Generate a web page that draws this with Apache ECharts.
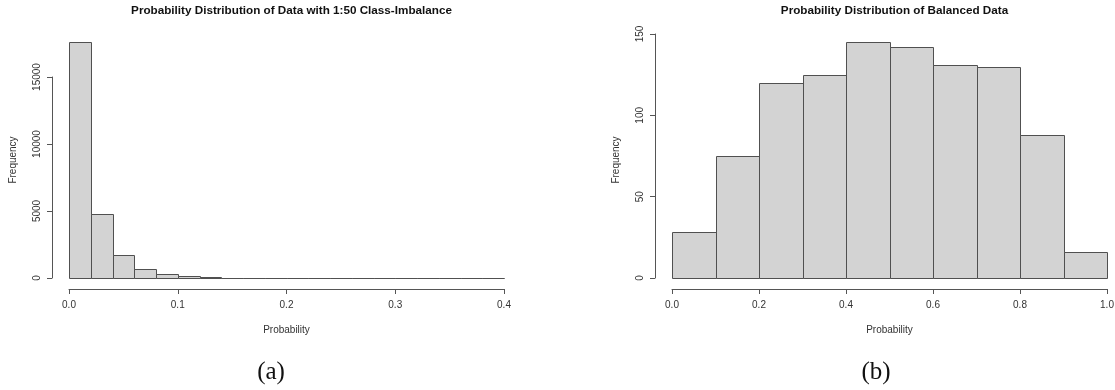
<!DOCTYPE html>
<html>
<head>
<meta charset="utf-8">
<script src="https://cdn.jsdelivr.net/npm/echarts@6/dist/echarts.min.js"></script>
<style>
html,body{margin:0;padding:0;background:#fff;}
#chart{width:1115px;height:390px;}
</style>
</head>
<body>
<div id="chart"></div>
<script>
// Panel (a): 1:50 class-imbalance, bins of width 0.02 from 0 to 0.4
var binsA = [0.00,0.02,0.04,0.06,0.08,0.10,0.12,0.14,0.16,0.18,0.20,0.22,0.24,0.26,0.28,0.30,0.32,0.34,0.36,0.38,0.40];
var countsA = [17600, 4780, 1730, 660, 330, 135, 60, 22, 14, 9, 3, 2, 1, 1, 0, 0, 0, 0, 0, 0];
var xTicksA = [0, 0.4, 0.1];   // min, max, interval
var yTicksA = [0, 15000, 5000];

// Panel (b): balanced data, bins of width 0.1 from 0 to 1
var binsB = [0.0,0.1,0.2,0.3,0.4,0.5,0.6,0.7,0.8,0.9,1.0];
var countsB = [28, 75, 120, 125, 145, 142, 131, 130, 88, 16];
var xTicksB = [0, 1, 0.2];
var yTicksB = [0, 150, 50];

var titleA = 'Probability Distribution of Data with 1:50 Class-Imbalance';
var titleB = 'Probability Distribution of Balanced Data';
var xLabel = 'Probability';
var yLabel = 'Frequency';
var captions = ['(a)', '(b)'];

function toHist(bins, counts) {
  var out = [];
  for (var i = 0; i < counts.length; i++) out.push([bins[i], bins[i + 1], counts[i]]);
  return out;
}

function renderBar(params, api) {
  var p0 = api.coord([api.value(0), 0]);
  var p1 = api.coord([api.value(1), api.value(2)]);
  var x0 = Math.round(p0[0]) + 0.5, x1 = Math.round(p1[0]) + 0.5;
  var y0 = Math.round(p0[1]) + 0.5, y1 = Math.round(p1[1]) + 0.5;
  return {
    type: 'rect',
    shape: { x: x0, y: y1, width: x1 - x0, height: y0 - y1 },
    style: { fill: '#d3d3d3', stroke: '#505050', lineWidth: 1 }
  };
}

var FONT = '"Liberation Sans", Arial, sans-serif';
var G = [
  { left: 69, top: 77, width: 435, height: 201 },
  { left: 672, top: 34, width: 435, height: 244 }
];

function xAxis(idx, t) {
  return {
    type: 'value', gridIndex: idx, min: t[0], max: t[1], interval: t[2],
    offset: 11,
    axisLine: { show: true, onZero: false, lineStyle: { color: '#555', width: 1 } },
    axisTick: { show: true, length: 5, lineStyle: { color: '#555' } },
    splitLine: { show: false },
    axisLabel: { color: '#333', fontSize: 10, fontFamily: FONT, margin: 11,
      formatter: function (v) { return v.toFixed(1); } }
  };
}
function yAxis(idx, t) {
  return {
    type: 'value', gridIndex: idx, min: t[0], max: t[1], interval: t[2],
    offset: 17,
    axisLine: { show: true, onZero: false, lineStyle: { color: '#555', width: 1 } },
    axisTick: { show: true, length: 5, lineStyle: { color: '#555' } },
    splitLine: { show: false },
    axisLabel: { color: '#333', fontSize: 10, fontFamily: FONT, rotate: 90, margin: 10,
      formatter: function (v) { return String(v); } }
  };
}

var chart = echarts.init(document.getElementById('chart'), null, { renderer: 'canvas' });
var cxA = G[0].left + G[0].width / 2, cxB = G[1].left + G[1].width / 2;
var midY = 160;

chart.setOption({
  animation: false,
  title: [
    { text: titleA, left: cxA, top: 0, textAlign: 'center',
      textStyle: { fontSize: 11.7, fontWeight: 'bold', color: '#111', fontFamily: FONT } },
    { text: titleB, left: cxB, top: 0, textAlign: 'center',
      textStyle: { fontSize: 11.7, fontWeight: 'bold', color: '#111', fontFamily: FONT } }
  ],
  grid: [
    Object.assign({ outerBoundsMode: 'none' }, G[0]),
    Object.assign({ outerBoundsMode: 'none' }, G[1])
  ],
  xAxis: [xAxis(0, xTicksA), xAxis(1, xTicksB)],
  yAxis: [yAxis(0, yTicksA), yAxis(1, yTicksB)],
  graphic: [
    { type: 'text', x: 13, y: midY, rotation: Math.PI / 2,
      style: { text: yLabel, fill: '#333', font: '10px ' + FONT, align: 'center', verticalAlign: 'middle' } },
    { type: 'text', x: 616, y: midY, rotation: Math.PI / 2,
      style: { text: yLabel, fill: '#333', font: '10px ' + FONT, align: 'center', verticalAlign: 'middle' } },
    { type: 'text', x: cxA, y: 330,
      style: { text: xLabel, fill: '#333', font: '10px ' + FONT, align: 'center', verticalAlign: 'middle' } },
    { type: 'text', x: cxB, y: 330,
      style: { text: xLabel, fill: '#333', font: '10px ' + FONT, align: 'center', verticalAlign: 'middle' } },
    { type: 'text', x: 271, y: 372,
      style: { text: captions[0], fill: '#111', font: '25px "Liberation Serif", "DejaVu Serif", serif', align: 'center', verticalAlign: 'middle' } },
    { type: 'text', x: 876, y: 372,
      style: { text: captions[1], fill: '#111', font: '25px "Liberation Serif", "DejaVu Serif", serif', align: 'center', verticalAlign: 'middle' } }
  ],
  series: [
    { type: 'custom', xAxisIndex: 0, yAxisIndex: 0, renderItem: renderBar, clip: false,
      encode: { x: [0, 1], y: 2 }, data: toHist(binsA, countsA) },
    { type: 'custom', xAxisIndex: 1, yAxisIndex: 1, renderItem: renderBar, clip: false,
      encode: { x: [0, 1], y: 2 }, data: toHist(binsB, countsB) }
  ]
});
</script>
</body>
</html>
